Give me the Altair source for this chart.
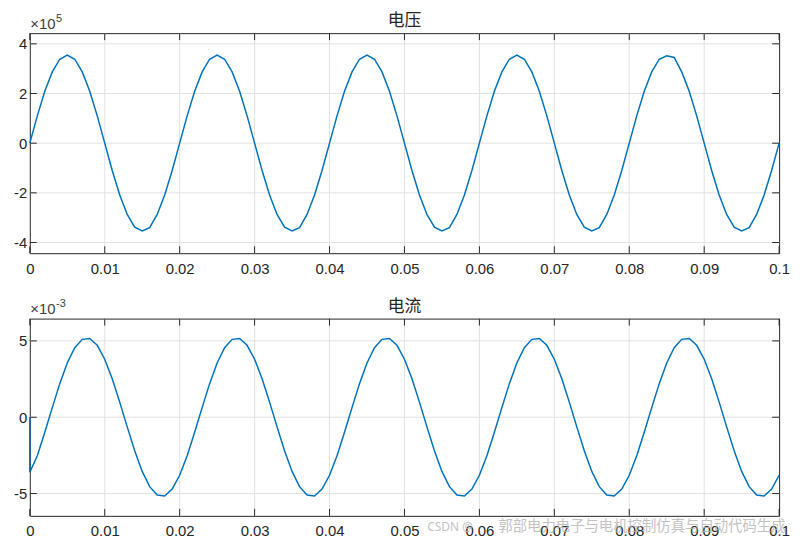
import altair as alt
import pandas as pd

# ---------------- data ----------------
# sample times in ms (1 ms step, 0 .. 100 ms)
time_ms = list(range(101))

# voltage, in units of 1e5 V
voltage_e5 = [
    0.00, 1.10, 2.09, 2.87, 3.38, 3.55, 3.38, 2.87, 2.09, 1.10,
    0.00, -1.10, -2.09, -2.87, -3.38, -3.53, -3.40, -2.87, -2.09, -1.10,
    0.00, 1.10, 2.09, 2.87, 3.38, 3.55, 3.38, 2.87, 2.09, 1.10,
    0.00, -1.10, -2.09, -2.87, -3.38, -3.53, -3.40, -2.87, -2.09, -1.10,
    0.00, 1.10, 2.09, 2.87, 3.38, 3.55, 3.38, 2.87, 2.09, 1.10,
    0.00, -1.10, -2.09, -2.87, -3.38, -3.53, -3.40, -2.87, -2.09, -1.10,
    0.00, 1.10, 2.09, 2.87, 3.38, 3.55, 3.38, 2.87, 2.09, 1.10,
    0.00, -1.10, -2.09, -2.87, -3.38, -3.53, -3.40, -2.87, -2.09, -1.10,
    0.00, 1.10, 2.09, 2.87, 3.38, 3.52, 3.45, 2.87, 2.09, 1.10,
    0.00, -1.10, -2.09, -2.87, -3.38, -3.53, -3.40, -2.87, -2.09, -1.10,
    0.00,
]

# current, in units of 1e-3 A (first sample at t=0 is the initial 0)
current_start_e3 = 0.0
current_e3 = [
    -3.60, -2.52, -0.99, 0.63, 2.20, 3.55, 4.55, 5.10, 5.16, 4.71,
    3.80, 2.52, 0.99, -0.63, -2.20, -3.55, -4.55, -5.10, -5.16, -4.71,
    -3.80, -2.52, -0.99, 0.63, 2.20, 3.55, 4.55, 5.10, 5.16, 4.71,
    3.80, 2.52, 0.99, -0.63, -2.20, -3.55, -4.55, -5.10, -5.16, -4.71,
    -3.80, -2.52, -0.99, 0.63, 2.20, 3.55, 4.55, 5.10, 5.16, 4.71,
    3.80, 2.52, 0.99, -0.63, -2.20, -3.55, -4.55, -5.10, -5.16, -4.71,
    -3.80, -2.52, -0.99, 0.63, 2.20, 3.55, 4.55, 5.10, 5.16, 4.71,
    3.80, 2.52, 0.99, -0.63, -2.20, -3.55, -4.55, -5.10, -5.16, -4.71,
    -3.80, -2.52, -0.99, 0.63, 2.20, 3.55, 4.55, 5.10, 5.16, 4.71,
    3.80, 2.52, 0.99, -0.63, -2.20, -3.55, -4.55, -5.10, -5.16, -4.71,
    -3.80,
]

x_ticks = [0, 0.01, 0.02, 0.03, 0.04, 0.05, 0.06, 0.07, 0.08, 0.09, 0.1]
x_grid = [0.01, 0.02, 0.03, 0.04, 0.05, 0.06, 0.07, 0.08, 0.09]
v_ticks = [-4, -2, 0, 2, 4]
i_ticks = [-5, 0, 5]
v_domain = [-4.43, 4.43]
i_domain = [-6.46, 6.46]

title_v = "电压"
title_i = "电流"
exp_v = "5"
exp_i = "-3"
watermark_latin = "CSDN @"
watermark_cjk = "郭部电力电子与电机控制仿真与自动代码生成"

# ---------------- styling ----------------
W = 756
H1 = 222
H2 = 199
TICK = 7
FONT = "Liberation Sans"
CJK = "Noto Sans CJK SC"
AX = "#262626"
GRID = "#e2e2e2"
BLUE = "#0072BD"

t_sec = [m / 1000 for m in time_ms]
df_v = pd.DataFrame({"t": t_sec, "val": voltage_e5, "idx": list(range(len(t_sec)))})
df_i = pd.DataFrame({
    "t": [0.0] + t_sec,
    "val": [current_start_e3] + current_e3,
    "idx": list(range(len(t_sec) + 1)),
})


def panel(df, ydom, yticks, H, title, expo, label_pad, extra=None):
    xscale = alt.Scale(domain=[0, 0.1], nice=False, zero=False)
    yscale = alt.Scale(domain=ydom, nice=False, zero=False)
    xaxis = alt.Axis(values=x_ticks, title=None, grid=False, ticks=False, domain=False,
                     labelExpr="format(datum.value, '.2~f')", labelFont=FONT,
                     labelFontSize=15, labelColor=AX, labelPadding=label_pad, labelFlush=False)
    yaxis = alt.Axis(values=yticks, title=None, grid=False, ticks=False, domain=False,
                     labelExpr="datum.value < 0 ? '-' + format(-datum.value, 'd') : format(datum.value, 'd')",
                     labelFont=FONT, labelFontSize=15, labelColor=AX, labelPadding=3)

    def X(f):
        return alt.X(f, scale=xscale, axis=xaxis, title=None)

    def Y(f):
        return alt.Y(f, scale=yscale, axis=yaxis, title=None)

    xg = pd.DataFrame({"tick": x_grid})
    xt = pd.DataFrame({"tick": x_ticks})
    yt = pd.DataFrame({"tick": yticks})

    line = alt.Chart(df).mark_line(color=BLUE, strokeWidth=1.5).encode(
        x=X("t:Q"), y=Y("val:Q"), order="idx:Q")

    grid_x = alt.Chart(xg).mark_rule(color=GRID, strokeWidth=1).encode(x=X("tick:Q"))
    grid_y = alt.Chart(yt).mark_rule(color=GRID, strokeWidth=1).encode(y=Y("tick:Q"))

    tb = alt.Chart(xt).mark_rule(color=AX, strokeWidth=1).encode(
        x=X("tick:Q"), y=alt.value(H), y2=alt.value(H - TICK))
    tt = alt.Chart(xt).mark_rule(color=AX, strokeWidth=1).encode(
        x=X("tick:Q"), y=alt.value(0), y2=alt.value(TICK))
    tl = alt.Chart(yt).mark_rule(color=AX, strokeWidth=1).encode(
        y=Y("tick:Q"), x=alt.value(0), x2=alt.value(TICK))
    tr = alt.Chart(yt).mark_rule(color=AX, strokeWidth=1).encode(
        y=Y("tick:Q"), x=alt.value(W), x2=alt.value(W - TICK))

    ttl = alt.Chart(pd.DataFrame({"s": [title]})).mark_text(
        font=CJK, fontSize=17, color=AX, align="center", baseline="middle"
    ).encode(x=alt.value(W / 2), y=alt.value(-12), text="s:N")

    base = alt.Chart(pd.DataFrame({"s": ["×10"]})).mark_text(
        font=FONT, fontSize=15, color="#404040", align="left", baseline="alphabetic"
    ).encode(x=alt.value(0.5), y=alt.value(-4.5), text="s:N")
    sup = alt.Chart(pd.DataFrame({"s": [expo]})).mark_text(
        font=FONT, fontSize=11, color="#404040", align="left", baseline="alphabetic"
    ).encode(x=alt.value(26.5), y=alt.value(-11.5), text="s:N")

    layers = [grid_x, grid_y, line, tb, tt, tl, tr, ttl, base, sup]
    if extra is not None:
        layers.extend(extra)
    return alt.layer(*layers).properties(width=W, height=H)


wm1 = alt.Chart(pd.DataFrame({"s": [watermark_latin]})).mark_text(
    font="Noto Sans", fontSize=12, color="#b4b4b4", opacity=0.8, align="left", baseline="middle"
).encode(x=alt.value(401), y=alt.value(H2 + 11.5), text="s:N")
wm2 = alt.Chart(pd.DataFrame({"s": [watermark_cjk]})).mark_text(
    font=CJK, fontSize=14.5, color="#b4b4b4", opacity=0.8, align="right", baseline="middle"
).encode(x=alt.value(W + 6.5), y=alt.value(H2 + 11.5), text="s:N")

top = panel(df_v, v_domain, v_ticks, H1, title_v, exp_v, 8)
bottom = panel(df_i, i_domain, i_ticks, H2, title_i, exp_i, 8, extra=[wm1, wm2])

chart = alt.vconcat(top, bottom, spacing=66, bounds="flush").properties(
    padding={"left": 5, "top": 1, "right": 2, "bottom": 0},
    background="white",
).configure_view(stroke=AX, strokeWidth=1)

chart.save("out.html", embed_options={"renderer": "svg", "actions": False})
